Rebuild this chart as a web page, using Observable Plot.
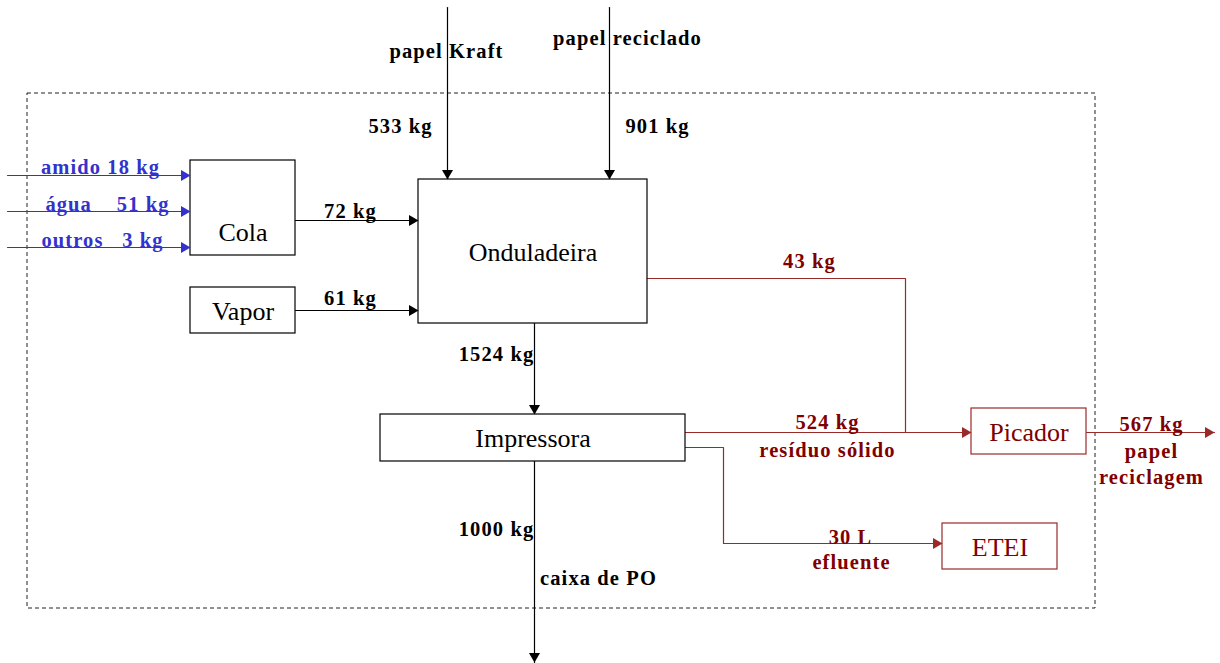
<!DOCTYPE html>
<html><head><meta charset="utf-8">
<script src="https://cdn.jsdelivr.net/npm/d3@7"></script>
<script src="https://cdn.jsdelivr.net/npm/@observablehq/plot@0.6"></script>
<style>html,body{margin:0;padding:0;background:#fff;}#chart svg{display:block;}</style>
</head><body><div id="chart"></div>
<script>
// ---------- data ----------
const units = ["Cola", "Vapor", "Onduladeira", "Impressora", "Picador", "ETEI"];
const unitGroup = ["processo", "processo", "processo", "processo", "residuo", "residuo"];
const glueInputs = ["amido", "água\u00a0\u00a0\u00a0", "outros\u00a0\u00a0"];
const glueValues = [18, 51, 3];
const paperInputs = ["papel Kraft", "papel reciclado"];
const paperValues = [533, 901];
const flowIds = ["cola", "vapor", "onduladeira", "caixa", "aparas", "residuo", "efluente", "reciclagem"];
const flowValues = [72, 61, 1524, 1000, 43, 524, 30, 567];
const flowUnits = ["kg", "kg", "kg", "kg", "kg", "kg", "L", "kg"];
const flowNotes = ["", "", "", "caixa de PO", "", "resíduo sólido", "efluente", "papel\nreciclagem"];

// ---------- layout of the diagram (diagram space = pixels) ----------
const frame = {x1: 27, y1: 93, x2: 1095, y2: 608};
const boxLayout = [
  [190, 160, 295, 255, 232],
  [190, 287, 295, 333, 311],
  [418, 179, 647, 323, 252],
  [380, 414, 685, 461, 438],
  [971, 408, 1086, 454, 432],
  [942, 523, 1057, 569, 547]
];
const glueLayout = [[7, 175, 100, 165], [7, 211, 107, 202], [7, 247, 102, 238]];
const paperLayout = [[447, 446, 49, 400, 124], [609, 627, 36, 657, 124]];
const flowPaths = [
  [[295, 220], [418, 220]],
  [[295, 310], [418, 310]],
  [[534, 323], [534, 414]],
  [[534, 461], [534, 662]],
  [[647, 278], [905, 278], [905, 432]],
  [[685, 432], [971, 432]],
  [[685, 447], [723, 447], [723, 543], [942, 543]],
  [[1086, 432], [1214, 432]]
];
const flowArrow = [true, true, true, true, false, true, true, true];
const flowLabelPos = [[350, 209], [350, 296], [496, 352], [496, 527], [809, 259], [827, 420], [850, 535], [1151, 422]];
const flowNotePos = [null, null, null, [598, 576], null, [827, 448], [851, 560], [1151, 462]];

// ---------- styles ----------
const BLUE = "#3333cc", RED_LINE = "#9a2a2a", RED_TEXT = "#800000", BLACK = "#000";
const SERIF = "'Liberation Serif', 'Times New Roman', serif";
const flowColor = id => ["aparas", "residuo", "efluente", "reciclagem"].includes(id) ? "red" : "black";

// ---------- build tables ----------
const lines = [], arrows = [], labels = [];
function addPath(id, pts, color, arrow) {
  pts.forEach(([x, y]) => lines.push({id, x, y, color}));
  if (arrow) {
    const [xa, ya] = pts[pts.length - 2], [xb, yb] = pts[pts.length - 1];
    const L = Math.hypot(xb - xa, yb - ya), dx = (xb - xa) / L, dy = (yb - ya) / L;
    const off = 6.3;
    arrows.push({x: xb - dx * off, y: yb - dy * off, rotate: Math.atan2(dx, -dy) * 180 / Math.PI, color});
  }
}
glueInputs.forEach((n, i) => {
  const [x0, y, lx, ly] = glueLayout[i];
  addPath("g" + i, [[x0, y], [boxLayout[0][0], y]], BLUE, true);
  labels.push({x: lx, y: ly, text: `${n} ${glueValues[i]} kg`, color: BLUE});
});
paperInputs.forEach((n, i) => {
  const [x, lx, ly, vx, vy] = paperLayout[i];
  addPath("p" + i, [[x, 7], [x, boxLayout[2][1]]], BLACK, true);
  labels.push({x: lx, y: ly, text: n, color: BLACK});
  labels.push({x: vx, y: vy, text: `${paperValues[i]} kg`, color: BLACK});
});
flowIds.forEach((id, i) => {
  const red = flowColor(id) === "red";
  addPath(id, flowPaths[i], red ? RED_LINE : BLACK, flowArrow[i]);
  labels.push({x: flowLabelPos[i][0], y: flowLabelPos[i][1], text: `${flowValues[i]} ${flowUnits[i]}`, color: red ? RED_TEXT : BLACK});
  if (flowNotes[i]) labels.push({x: flowNotePos[i][0], y: flowNotePos[i][1], text: flowNotes[i], color: red ? RED_TEXT : BLACK});
});
const boxes = units.map((u, i) => {
  const [x1, y1, x2, y2, ly] = boxLayout[i];
  const waste = unitGroup[i] === "residuo";
  return {name: u, x1, y1, x2, y2, lx: (x1 + x2) / 2, ly, stroke: waste ? RED_LINE : BLACK, color: waste ? RED_TEXT : BLACK};
});

const chart = Plot.plot({
  width: 1220, height: 663, margin: 0,
  x: {domain: [0, 1220], range: [0, 1220], axis: null},
  y: {domain: [0, 663], range: [0, 663], axis: null},
  color: {type: "identity"},
  style: {background: "#fff", fontFamily: SERIF},
  marks: [
    Plot.rect([frame], {x1: "x1", x2: "x2", y1: "y1", y2: "y2", fill: "none", stroke: "#222", strokeWidth: 1, strokeDasharray: "4,3"}),
    Plot.line(lines, {x: "x", y: "y", z: "id", stroke: "color", strokeWidth: 1.2}),
    Plot.rect(boxes, {x1: "x1", x2: "x2", y1: "y1", y2: "y2", fill: "white", stroke: "stroke", strokeWidth: 1.2}),
    Plot.dot(arrows, {x: "x", y: "y", symbol: "triangle", r: 4.1, rotate: "rotate", fill: "color", stroke: "none"}),
    Plot.text(boxes, {x: "lx", y: "ly", text: "name", fill: "color", fontSize: 26, fontFamily: SERIF}),
    Plot.text(labels, {x: "x", y: "y", text: "text", fill: "color", fontSize: 20.5, fontWeight: "bold", fontFamily: SERIF, lineHeight: 1.3})
  ]
});
d3.select(chart).selectAll('g[font-weight="bold"]').attr("letter-spacing", 1.1);
document.getElementById("chart").appendChild(chart);
</script>
</body></html>
